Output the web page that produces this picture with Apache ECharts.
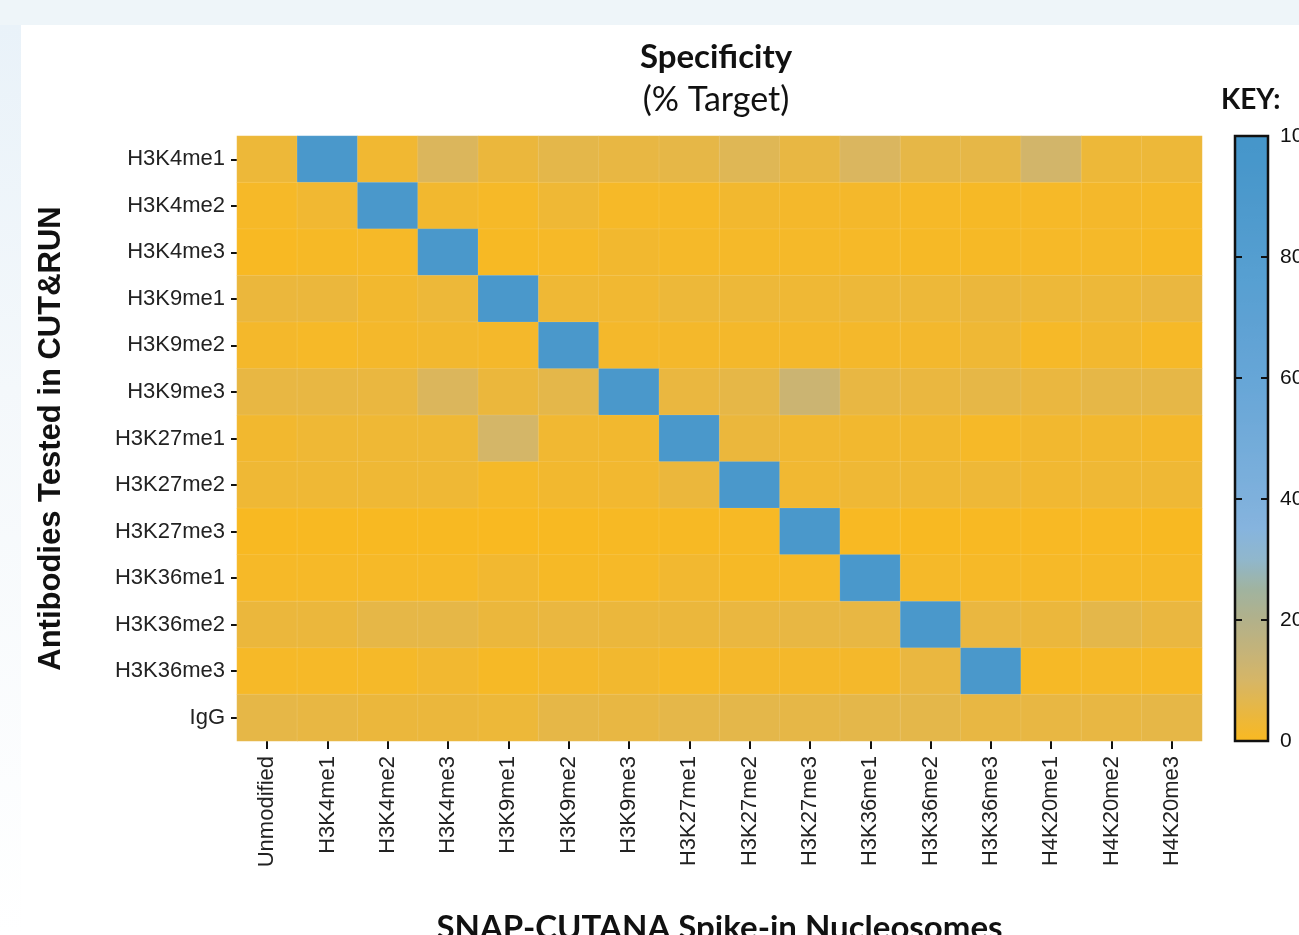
<!DOCTYPE html>
<html>
<head>
<meta charset="utf-8">
<script src="https://cdn.jsdelivr.net/npm/echarts@6/dist/echarts.min.js"></script>
<style>
  html, body { margin: 0; padding: 0; width: 1299px; height: 935px; overflow: hidden; background: #EEF5F9; }
  #bgpanel { position: absolute; left: 21px; top: 25px; right: 0; bottom: 0; background: #ffffff; }
  #leftstrip { position: absolute; left: 0; top: 25px; width: 21px; bottom: 0; background: linear-gradient(180deg, #E9F2F9 0%, #F4F8FB 40%, #ffffff 100%); }
  #chart { position: absolute; left: 0; top: 0; width: 1299px; height: 935px; }
</style>
</head>
<body>
<div id="leftstrip"></div>
<div id="bgpanel"></div>
<div id="chart"></div>
<script>
// Nucleosome targets (x axis)
const nucleosomes = ['Unmodified', 'H3K4me1', 'H3K4me2', 'H3K4me3', 'H3K9me1', 'H3K9me2', 'H3K9me3',
  'H3K27me1', 'H3K27me2', 'H3K27me3', 'H3K36me1', 'H3K36me2', 'H3K36me3', 'H4K20me1', 'H4K20me2', 'H4K20me3'];
// Antibodies (y axis, top to bottom)
const antibodies = ['H3K4me1', 'H3K4me2', 'H3K4me3', 'H3K9me1', 'H3K9me2', 'H3K9me3', 'H3K27me1',
  'H3K27me2', 'H3K27me3', 'H3K36me1', 'H3K36me2', 'H3K36me3', 'IgG'];

// % target values per antibody row (one value per nucleosome column)
const rowH3K4me1  = [3.5, 93, 2.5, 8.5, 4, 6, 5, 5.5, 7.5, 5, 9, 5.5, 5.5, 11, 3.5, 3.5];
const rowH3K4me2  = [1, 2.5, 93, 2, 1, 3, 1, 1, 2, 1.5, 1.5, 1, 0.8, 1, 1.5, 1.2];
const rowH3K4me3  = [0.3, 0.8, 1, 93, 0.5, 1, 2, 1.2, 1.2, 1.2, 1, 0.8, 0.8, 1, 1.2, 0.6];
const rowH3K9me1  = [4, 4, 2, 3.5, 93, 3, 2.5, 3.5, 3.5, 3, 3.5, 3.5, 4, 3.5, 3.5, 4.5];
const rowH3K9me2  = [1.5, 1, 1.5, 2, 1.5, 93, 1.5, 1.5, 1.5, 1.5, 1.5, 1.8, 3, 1, 2, 1];
const rowH3K9me3  = [5, 5, 4.5, 8.5, 4, 6, 93, 4.5, 5.5, 13, 5, 4.5, 5.5, 4.5, 5.5, 5.5];
const rowH3K27me1 = [2, 3, 3, 3, 10.5, 2.5, 2, 93, 4, 2.5, 2, 2, 1, 2, 2, 1.5];
const rowH3K27me2 = [3, 3, 3, 3, 1.2, 2, 2.2, 4, 93, 2.5, 3, 3, 3.2, 2.5, 3, 3];
const rowH3K27me3 = [0.2, 0.2, 0.2, 0.2, 0, 0.2, 0.5, 0.5, 0.6, 93, 0.3, 0.2, 0.3, 0.4, 0.4, 0.2];
const rowH3K36me1 = [1, 1, 1, 1, 2.2, 0.8, 1, 2.2, 0.8, 1, 93, 1.2, 1, 1, 1, 1];
const rowH3K36me2 = [4, 4, 5.5, 5.5, 4, 4.5, 4, 4, 4.5, 5, 5, 93, 4.5, 4, 6, 4.5];
const rowH3K36me3 = [1, 1, 1.2, 2.2, 0.8, 1.5, 2, 1, 1.5, 1.5, 1.5, 4.5, 93, 0.8, 1.2, 1];
const rowIgG      = [5.5, 5, 4, 4, 3.5, 5.5, 5, 5.8, 6, 5.5, 6, 6, 5, 5, 5, 5.5];

const rows = [rowH3K4me1, rowH3K4me2, rowH3K4me3, rowH3K9me1, rowH3K9me2, rowH3K9me3, rowH3K27me1,
  rowH3K27me2, rowH3K27me3, rowH3K36me1, rowH3K36me2, rowH3K36me3, rowIgG];

// colour key ticks
const keyTicks = [0, 20, 40, 60, 80, 100];

const cells = [];
rows.forEach((r, yi) => r.forEach((v, xi) => cells.push([xi, yi, v])));

const keyColors = ['#F9B921', '#E8B743', '#D6B666', '#C4B37A', '#B2B18A', '#A0B39F', '#90B7CC', '#86B4DE',
  '#7EB0DC', '#78AEDB', '#72ABD9', '#6CA8D8', '#66A6D7', '#62A3D5', '#5DA1D3', '#58A0D2', '#549ED0',
  '#509BCE', '#4C99CC', '#4897CB', '#4596CA'];

const labelFont = 'Liberation Sans, Arial, sans-serif';
const titleFont = 'Lato, Noto Sans, sans-serif';

const keyRect = { left: 1235, top: 136, width: 33, height: 605, outerBoundsMode: 'none', containLabel: false };

const chart = echarts.init(document.getElementById('chart'), null, { renderer: 'canvas' });
chart.setOption({
  backgroundColor: 'transparent',
  animation: false,
  title: {
    text: 'Specificity',
    subtext: '(% Target)',
    left: 711,
    top: 36,
    textAlign: 'center',
    itemGap: 9,
    textStyle: { fontFamily: titleFont, fontSize: 33, fontWeight: 'bold', color: '#111' },
    subtextStyle: { fontFamily: titleFont, fontSize: 34, fontWeight: 'normal', color: '#111' }
  },
  graphic: [{
    type: 'text', left: 1221, top: 86,
    style: { text: 'KEY:', font: 'bold 28px ' + titleFont, fill: '#111' }
  }],
  grid: [
    { left: 237, top: 136, width: 965, height: 605, outerBoundsMode: 'none', containLabel: false },
    Object.assign({ show: true, borderColor: '#111', borderWidth: 2.5, backgroundColor: 'transparent', z: 10 }, keyRect),
    Object.assign({ z: 10 }, keyRect)
  ],
  xAxis: [{
    gridIndex: 0,
    type: 'category',
    data: nucleosomes,
    position: 'bottom',
    axisLine: { show: false },
    axisTick: { show: true, alignWithLabel: true, length: 8, lineStyle: { color: '#111', width: 2 } },
    axisLabel: { rotate: 90, fontSize: 22, fontFamily: labelFont, color: '#222', margin: 15 },
    splitLine: { show: false },
    name: 'SNAP-CUTANA Spike-in Nucleosomes',
    nameLocation: 'middle',
    nameGap: 171,
    nameTextStyle: { fontFamily: titleFont, fontSize: 33, fontWeight: 'bold', color: '#111', verticalAlign: 'top' }
  }, {
    gridIndex: 1, type: 'category', data: ['key'], show: false
  }, {
    gridIndex: 2, type: 'category', data: ['key'], show: false
  }],
  yAxis: [{
    gridIndex: 0,
    type: 'category',
    data: antibodies,
    inverse: true,
    axisLine: { show: false },
    axisTick: { show: true, alignWithLabel: true, length: 6, lineStyle: { color: '#111', width: 2 } },
    axisLabel: { fontSize: 22, fontFamily: labelFont, color: '#222', margin: 12 },
    splitLine: { show: false },
    name: 'Antibodies Tested in CUT&RUN',
    nameLocation: 'middle',
    nameRotate: 90,
    nameGap: 170,
    nameTextStyle: { fontFamily: labelFont, fontSize: 31, fontWeight: 'bold', color: '#111' }
  }, {
    gridIndex: 1, type: 'value', position: 'right', min: 0, max: 100, interval: 20, z: 10,
    axisLine: { show: false, onZero: false },
    axisTick: { show: true, inside: true, length: 7, lineStyle: { color: '#111', width: 2 } },
    axisLabel: { fontSize: 21, fontFamily: labelFont, color: '#111', margin: 12,
      formatter: v => keyTicks.includes(v) ? String(v) : '' },
    splitLine: { show: false }
  }, {
    gridIndex: 2, type: 'value', position: 'left', min: 0, max: 100, interval: 20, z: 10,
    axisLine: { show: false, onZero: false },
    axisTick: { show: true, inside: true, length: 7, lineStyle: { color: '#111', width: 2 } },
    axisLabel: { show: false },
    splitLine: { show: false }
  }],
  visualMap: {
    type: 'continuous',
    seriesIndex: 0,
    z: 1,
    min: 0, max: 100,
    calculable: false,
    orient: 'vertical',
    left: 1235, top: 136,
    itemWidth: 33, itemHeight: 605,
    padding: 0,
    text: null,
    showLabel: false,
    hoverLink: false,
    inRange: { color: keyColors }
  },
  series: [{
    type: 'heatmap',
    xAxisIndex: 0, yAxisIndex: 0,
    data: cells,
    itemStyle: { borderColor: 'rgba(255,255,255,0.10)', borderWidth: 1 },
    emphasis: { disabled: true }
  }]
});
</script>
</body>
</html>
